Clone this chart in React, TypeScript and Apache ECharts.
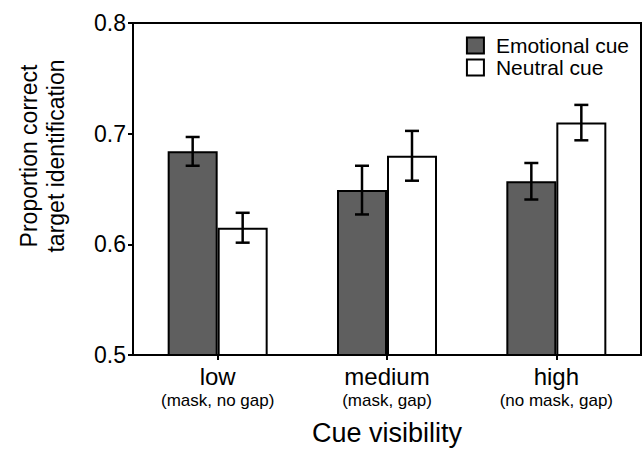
import React, { useEffect, useRef } from "react";
import * as echarts from "echarts";

const categories = ["low", "medium", "high"];
const subLabels = ["(mask, no gap)", "(mask, gap)", "(no mask, gap)"];
const emotionalValues = [0.684, 0.649, 0.657];
const emotionalErrors = [0.013, 0.022, 0.0165];
const neutralValues = [0.615, 0.68, 0.71];
const neutralErrors = [0.0135, 0.0225, 0.016];
const yTicks = [0.5, 0.6, 0.7, 0.8];

const FONT = "Liberation Sans, Arial, sans-serif";
const BAR_W = 50;

function errorSeries(name: string, values: number[], errs: number[], offset: number) {
  return {
    type: "custom",
    name: name + " error",
    z: 10,
    data: values.map((v, i) => [i, v, errs[i]]),
    renderItem: (params: any, api: any) => {
      const i = api.value(0);
      const v = api.value(1);
      const e = api.value(2);
      const top = api.coord([i, v + e]);
      const bot = api.coord([i, v - e]);
      const x = top[0] + offset;
      const cap = 7;
      const style = { stroke: "#000", lineWidth: 2.5 };
      return {
        type: "group",
        children: [
          { type: "line", shape: { x1: x, y1: top[1], x2: x, y2: bot[1] }, style },
          { type: "line", shape: { x1: x - cap, y1: top[1], x2: x + cap, y2: top[1] }, style },
          { type: "line", shape: { x1: x - cap, y1: bot[1], x2: x + cap, y2: bot[1] }, style },
        ],
      };
    },
  };
}

export default function App() {
  const ref = useRef<HTMLDivElement>(null);
  useEffect(() => {
    if (!ref.current) return;
    const chart = echarts.init(ref.current, undefined, { renderer: "svg" });
    chart.setOption({
      animation: false,
      backgroundColor: "#fff",
      grid: {
        left: 133,
        right: 2,
        top: 23,
        bottom: 88,
        show: true,
        borderColor: "#000",
        borderWidth: 2,
        containLabel: false,
      },
      legend: {
        data: ["Emotional cue", "Neutral cue"],
        orient: "vertical",
        right: 9,
        top: 30,
        itemWidth: 17,
        itemHeight: 16,
        itemGap: 1,
        icon: "rect",
        align: "left",
        textStyle: { fontFamily: FONT, fontSize: 21, lineHeight: 21, color: "#000", padding: [0, 0, 0, 7] },
      },
      xAxis: {
        type: "category",
        data: categories,
        axisLine: { lineStyle: { color: "#000", width: 2 } },
        axisTick: { show: true, alignWithLabel: true, length: 5, lineStyle: { color: "#000", width: 2 } },
        axisLabel: {
          margin: 8,
          interval: 0,
          formatter: (v: string) => {
            const i = categories.indexOf(v);
            return "{a|" + v + "}\n{b|" + subLabels[i] + "}";
          },
          rich: {
            a: { fontFamily: FONT, fontSize: 24, color: "#000", lineHeight: 26 },
            b: { fontFamily: FONT, fontSize: 17, color: "#000", lineHeight: 22 },
          },
        },
        name: "Cue visibility",
        nameLocation: "middle",
        nameGap: 64,
        nameTextStyle: { fontFamily: FONT, fontSize: 27, color: "#000" },
      },
      yAxis: {
        type: "value",
        min: 0.5,
        max: 0.8,
        interval: 0.1,
        splitLine: { show: false },
        axisLine: { show: true, lineStyle: { color: "#000", width: 2 } },
        axisTick: { show: true, length: 5, lineStyle: { color: "#000", width: 2 } },
        axisLabel: {
          margin: 7,
          fontFamily: FONT,
          fontSize: 23,
          color: "#000",
          formatter: (v: number) => {
            const t = yTicks.find((k) => Math.abs(k - v) < 1e-6);
            return (t !== undefined ? t : v).toFixed(1);
          },
        },
      },
      graphic: [
        {
          type: "text",
          x: 42,
          y: 156,
          rotation: Math.PI / 2,
          style: {
            text: "Proportion correct\ntarget identification",
            fontFamily: FONT,
            fontSize: 23,
            lineHeight: 27,
            fill: "#000",
            textAlign: "center",
            textVerticalAlign: "middle",
          },
        },
      ],
      series: [
        {
          type: "bar",
          name: "Emotional cue",
          data: emotionalValues,
          barWidth: BAR_W,
          barGap: "0%",
          itemStyle: { color: "#5f5f5f", borderColor: "#000", borderWidth: 2 },
        },
        {
          type: "bar",
          name: "Neutral cue",
          data: neutralValues,
          barWidth: BAR_W,
          barGap: "0%",
          itemStyle: { color: "#fff", borderColor: "#000", borderWidth: 2 },
        },
        errorSeries("Emotional cue", emotionalValues, emotionalErrors, -BAR_W / 2),
        errorSeries("Neutral cue", neutralValues, neutralErrors, BAR_W / 2),
      ],
    });
    return () => chart.dispose();
  }, []);
  return (
    <div
      ref={ref}
      style={{ position: "fixed", left: 0, top: 0, width: 643, height: 451, background: "#fff" }}
    />
  );
}
